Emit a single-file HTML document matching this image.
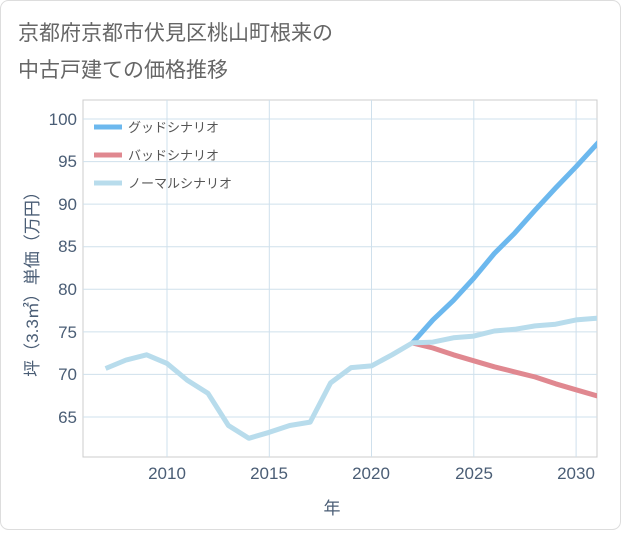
<!DOCTYPE html>
<html><head><meta charset="utf-8"><style>
body{margin:0;background:#fff;}
svg text{font-family:"Liberation Sans","Noto Sans CJK JP",sans-serif;}
</style></head><body>
<svg width="621" height="530" xmlns="http://www.w3.org/2000/svg">
<rect x="0.5" y="0.5" width="620" height="529" rx="8" fill="#fff" stroke="#ddd"/>
<text x="18" y="40" font-size="21" fill="#666">京都府京都市伏見区桃山町根来の</text>
<text x="18" y="77" font-size="21" fill="#666">中古戸建ての価格推移</text>
<rect x="83" y="100" width="514" height="357" fill="#fff" stroke="#ccc"/>
<g stroke="#cfe0ec" stroke-width="1">
<line x1="167" y1="100" x2="167" y2="457"/><line x1="269.3" y1="100" x2="269.3" y2="457"/>
<line x1="371.5" y1="100" x2="371.5" y2="457"/><line x1="473.8" y1="100" x2="473.8" y2="457"/>
<line x1="576.1" y1="100" x2="576.1" y2="457"/>
<line x1="83" y1="119" x2="597" y2="119"/><line x1="83" y1="161.6" x2="597" y2="161.6"/>
<line x1="83" y1="204.1" x2="597" y2="204.1"/><line x1="83" y1="246.7" x2="597" y2="246.7"/>
<line x1="83" y1="289.3" x2="597" y2="289.3"/><line x1="83" y1="331.9" x2="597" y2="331.9"/>
<line x1="83" y1="374.4" x2="597" y2="374.4"/><line x1="83" y1="417" x2="597" y2="417"/>
</g>
<g font-size="17" fill="#4a5d75" text-anchor="end">
<text x="77" y="125">100</text><text x="77" y="167">95</text><text x="77" y="210">90</text>
<text x="77" y="252">85</text><text x="77" y="295">80</text><text x="77" y="338">75</text>
<text x="77" y="380">70</text><text x="77" y="423">65</text>
</g>
<g font-size="17" fill="#4a5d75" text-anchor="middle">
<text x="167" y="479">2010</text><text x="269" y="479">2015</text><text x="371" y="479">2020</text>
<text x="474" y="479">2025</text><text x="576" y="479">2030</text>
<text x="332" y="514">年</text>
</g>
<text transform="translate(38,280) rotate(-90)" font-size="17" fill="#4a5d75" text-anchor="middle">坪（3.3㎡）単価（万円）</text>
<svg x="83" y="100" width="514" height="357" viewBox="83 100 514 357" overflow="hidden">
<polyline fill="none" stroke="#6cb8ee" stroke-width="5" stroke-linejoin="round" points="412.4,342.9 432.9,319.9 453.4,300.4 473.8,278.2 494.3,253.5 514.7,233.1 535.2,210.1 555.6,188 576.1,166.7 596.5,144.5 605,135"/>
<polyline fill="none" stroke="#e08890" stroke-width="5" stroke-linejoin="round" points="412.4,342.9 432.9,348 453.4,354.8 473.8,360.8 494.3,366.8 514.7,371.9 535.2,377 555.6,383.8 576.1,389.8 596.5,395.7 605,398"/>
<polyline fill="none" stroke="#b8dcec" stroke-width="5" stroke-linejoin="round" points="105.6,368.5 126.1,360 146.6,354.8 167,363.4 187.5,380.4 207.9,393.2 228.4,425.5 248.8,438.3 269.3,432.3 289.7,425.5 310.2,422.1 330.6,382.9 351.1,367.6 371.5,365.9 392,354.8 412.4,342.9 432.9,342.1 453.4,337.8 473.8,336.1 494.3,331 514.7,329.3 535.2,325.9 555.6,324.2 576.1,319.9 596.5,318.2 605,318"/>
</svg>
<line x1="94" y1="127" x2="122" y2="127" stroke="#6cb8ee" stroke-width="5"/>
<line x1="94" y1="155" x2="122" y2="155" stroke="#e08890" stroke-width="5"/>
<line x1="94" y1="183" x2="122" y2="183" stroke="#b8dcec" stroke-width="5"/>
<g font-size="13" fill="#555">
<text x="128" y="132">グッドシナリオ</text>
<text x="128" y="160">バッドシナリオ</text>
<text x="128" y="188">ノーマルシナリオ</text>
</g>
</svg>
</body></html>
